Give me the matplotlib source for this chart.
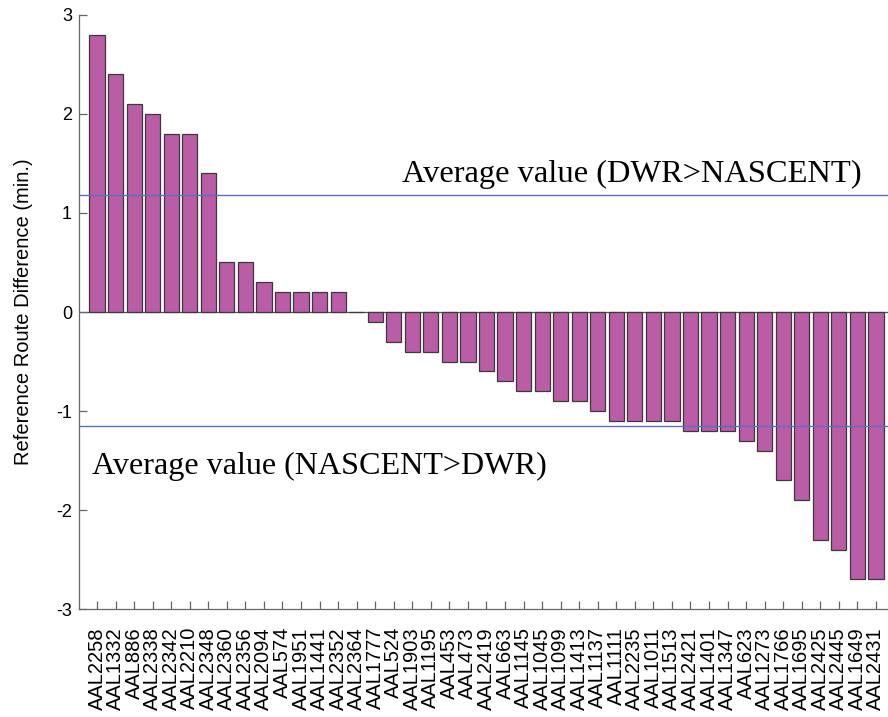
import matplotlib.pyplot as plt
import numpy as np

# Flights (x categories) and reference route difference in minutes
flights = ['AAL2258', 'AAL1332', 'AAL886', 'AAL2338', 'AAL2342', 'AAL2210', 'AAL2348',
           'AAL2360', 'AAL2356', 'AAL2094', 'AAL574', 'AAL1951', 'AAL1441', 'AAL2352',
           'AAL2364', 'AAL1777', 'AAL524', 'AAL1903', 'AAL1195', 'AAL453', 'AAL473',
           'AAL2419', 'AAL663', 'AAL1145', 'AAL1045', 'AAL1099', 'AAL1413', 'AAL1137',
           'AAL1111', 'AAL2235', 'AAL1011', 'AAL1513', 'AAL2421', 'AAL1401', 'AAL1347',
           'AAL623', 'AAL1273', 'AAL1766', 'AAL1695', 'AAL2425', 'AAL2445', 'AAL1649',
           'AAL2431']
diff_min = [2.8, 2.4, 2.1, 2.0, 1.8, 1.8, 1.4,
            0.5, 0.5, 0.3, 0.2, 0.2, 0.2, 0.2,
            0.0, -0.1, -0.3, -0.4, -0.4, -0.5, -0.5,
            -0.6, -0.7, -0.8, -0.8, -0.9, -0.9, -1.0,
            -1.1, -1.1, -1.1, -1.1, -1.2, -1.2, -1.2,
            -1.3, -1.4, -1.7, -1.9, -2.3, -2.4, -2.7,
            -2.7]

# Averages shown as horizontal reference lines
avg_dwr_gt_nascent = 1.18
avg_nascent_gt_dwr = -1.15

bar_color = '#BB5CA6'
line_color = '#5B6EC4'

fig = plt.figure(figsize=(8.88, 7.17), dpi=100)
ax = fig.add_axes([0.089, 0.1506, 0.911, 0.8285])

x = np.arange(len(flights))
ax.bar(x, diff_min, width=0.82, color=bar_color, edgecolor='#3a3a3a', linewidth=0.9, zorder=2)

# zero line and average lines
ax.axhline(0, color='#555555', lw=0.9, zorder=1)
ax.axhline(avg_dwr_gt_nascent, color=line_color, lw=1.0, zorder=3)
ax.axhline(avg_nascent_gt_dwr, color=line_color, lw=1.0, zorder=3)

ax.text(16.45, 1.31, 'Average value (DWR>NASCENT)', family='Liberation Serif',
        fontsize=23.4, ha='left', va='baseline')
ax.text(-0.25, -1.64, 'Average value (NASCENT>DWR)', family='Liberation Serif',
        fontsize=23.1, ha='left', va='baseline')

ax.set_xlim(-0.97, 42.65)
ax.set_ylim(-3, 3)
ax.set_yticks([-3, -2, -1, 0, 1, 2, 3])
ax.set_yticklabels(['-3', '-2', '-1', '0', '1', '2', '3'], family='Liberation Sans', fontsize=13)
ax.set_xticks(x)
ax.set_xticklabels(flights, rotation=90, family='Liberation Sans', fontsize=14.5)
ax.tick_params(axis='both', direction='in', length=6, color='#666666', width=0.9)
ax.tick_params(axis='x', pad=13)
ax.tick_params(axis='y', pad=5)

ax.set_ylabel('Reference Route Difference (min.)', family='Liberation Sans', fontsize=14.5, labelpad=17)

for side in ['top', 'right']:
    ax.spines[side].set_visible(False)
for side in ['left', 'bottom']:
    ax.spines[side].set_color('#666666')
    ax.spines[side].set_linewidth(0.9)

fig.savefig('out.png', dpi=100)
